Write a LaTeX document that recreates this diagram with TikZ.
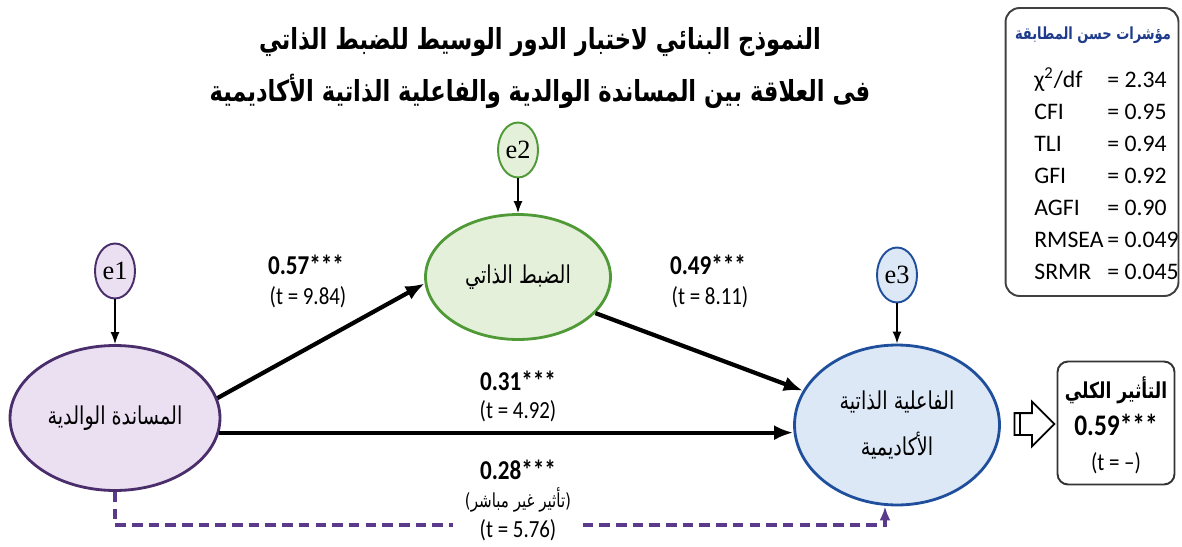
\documentclass[tikz,border=0pt]{standalone}
\usepackage{fontspec}
\usepackage{graphicx}
\setmainfont{Carlito}
\newfontfamily\condfont[FakeStretch=0.85]{Carlito}
\newfontfamily\errfont{Liberation Serif}
\newfontfamily\arabicfont[Script=Arabic]{DejaVu Sans}
\TeXXeTstate=1
\usetikzlibrary{shapes.geometric,shapes.arrows,arrows.meta}
\newcommand{\artxt}[1]{\scalebox{0.78}[1]{\beginR #1\endR}}
\definecolor{parfill}{HTML}{EAE0F2}
\definecolor{pardraw}{HTML}{4A2D6B}
\definecolor{scfill}{HTML}{E4F0DA}
\definecolor{scdraw}{HTML}{4F9A37}
\definecolor{effill}{HTML}{DDE8F6}
\definecolor{efdraw}{HTML}{1F4F9C}
\definecolor{dashcol}{HTML}{5B3A8C}
\definecolor{fitblue}{HTML}{1F3C8C}
\begin{document}
\begin{tikzpicture}[x=0.02cm, y=-0.02cm,
	latent/.style={draw, ellipse, line width=1.6pt, font=\arabicfont\fontsize{14}{26}\selectfont, align=center},
	errnode/.style={draw, ellipse, line width=1.1pt, minimum width=0.8cm, minimum height=1.1cm, inner sep=0pt, font=\errfont\fontsize{15}{17}\selectfont},
	errpath/.style={-{Latex[length=2.4mm, width=1.8mm]}, line width=0.9pt},
	mainpath/.style={-{Latex[length=3.8mm, width=3mm]}, line width=2.4pt},
	coef/.style={font=\condfont\bfseries\fontsize{15.5}{17}\selectfont},
	tval/.style={font=\condfont\fontsize{14}{16}\selectfont},
	fitrow/.style={anchor=west, font=\fontsize{13.5}{16}\selectfont, inner sep=0pt}]
	\useasboundingbox (0,0) rectangle (1182,547);

	\node[font=\arabicfont\bfseries\fontsize{16.5}{18}\selectfont] (title1) at (540,42) {\artxt{النموذج البنائي لاختبار الدور الوسيط للضبط الذاتي}};
	\node[font=\arabicfont\bfseries\fontsize{16.5}{18}\selectfont] (title2) at (540,91) {\artxt{فى العلاقة بين المساندة الوالدية والفاعلية الذاتية الأكاديمية}};

	\node[latent, fill=parfill, draw=pardraw, minimum width=4.2cm, minimum height=2.9cm] (par) at (115,418) {\artxt{المساندة الوالدية}};
	\node[latent, fill=scfill, draw=scdraw, minimum width=3.7cm, minimum height=2.5cm] (sc) at (518,277) {\artxt{الضبط الذاتي}};
	\node[latent, fill=effill, draw=efdraw, minimum width=4.1cm, minimum height=3.2cm] (eff) at (897,425) {\artxt{الفاعلية الذاتية}\\\artxt{الأكاديمية}};

	\node[errnode, fill=parfill, draw=pardraw] (e1) at (115,271) {e1};
	\node[errnode, fill=scfill, draw=scdraw] (e2) at (518,150) {e2};
	\node[errnode, fill=effill, draw=efdraw] (e3) at (897,275) {e3};
	\draw[errpath] (e1) -- (par);
	\draw[errpath] (e2) -- (sc);
	\draw[errpath] (e3) -- (eff);

	\draw[mainpath] (par.11) -- (sc.184);
	\draw[mainpath] (sc.335) -- (eff.160);
	\draw[mainpath] (par.-8) -- (par.-8 -| eff.west);

	\node[coef] (c57) at (306,265) {0.57***};
	\node[tval] (t57) at (308,297) {(t = 9.84)};
	\node[coef] (c49) at (708,265) {0.49***};
	\node[tval] (t49) at (710,297) {(t = 8.11)};
	\node[coef] (c31) at (518,381) {0.31***};
	\node[tval] (t31) at (518,411) {(t = 4.92)};

	\coordinate (dr) at (885,525);
	\draw[dashcol, line width=1.8pt, dash pattern=on 6pt off 3.5pt, -{Latex[length=2.8mm, width=2.2mm]}] (par.south) |- (dr) -- (dr |- eff.south);
	\node[coef] (c28) at (518,470) {0.28***};
	\node[font=\arabicfont\fontsize{11}{12}\selectfont] (ind) at (518,500) {\artxt{(تأثير غير مباشر)}};
	\node[tval, fill=white, minimum width=2.6cm, inner ysep=1pt] (t28) at (518,530) {(t = 5.76)};

	\node[draw=black!75, line width=1.1pt, rounded corners=8pt, minimum width=3.46cm, minimum height=5.76cm] (fitbox) at (1092,152) {};
	\node[font=\arabicfont\bfseries\fontsize{9.5}{11}\selectfont, text=fitblue] (fittitle) at (1093,35) {\artxt{مؤشرات حسن المطابقة}};
	\foreach \lab/\val [count=\i from 0] in {{χ\textsuperscript{2}/df}/2.34, CFI/0.95, TLI/0.94, GFI/0.92, AGFI/0.90, RMSEA/0.049, SRMR/0.045} {
		\node[fitrow] (fitlab\i) at (1034,{80+32*\i}) {\lab};
		\node[fitrow] (fitval\i) at (1107,{80+32*\i}) {= \val};
	}

	\node[single arrow, draw, line width=1pt, minimum height=0.8cm, inner xsep=0pt, inner ysep=0.2cm, single arrow head extend=0.23cm] (harrow) at (1029,424) {};
	\draw[line width=1pt] ([xshift=3.5pt]harrow.before tail) -- ([xshift=3.5pt]harrow.after tail);
	\node[draw=black!80, line width=1.1pt, rounded corners=6pt, minimum width=2.34cm, minimum height=2.46cm] (totbox) at (1116,423) {};
	\node[font=\arabicfont\bfseries\fontsize{12.5}{14}\selectfont] (tottitle) at (1116,390) {\artxt{التأثير الكلي}};
	\node[font=\condfont\bfseries\fontsize{17}{19}\selectfont] (c59) at (1116,425) {0.59***};
	\node[tval] (t59) at (1116,463) {(t = –)};
\end{tikzpicture}
\end{document}
